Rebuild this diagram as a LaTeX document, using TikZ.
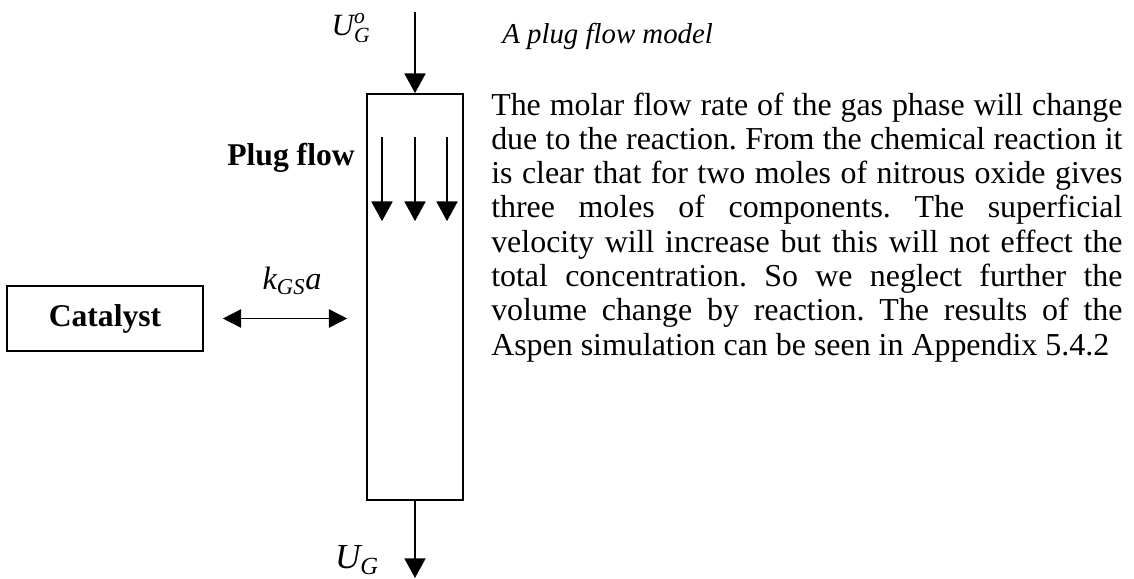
\documentclass[tikz,border=0pt]{standalone}
\usepackage{fontspec}
\usepackage{amsmath}
\setmainfont{Liberation Serif}
\usetikzlibrary{positioning, arrows.meta, calc}

% italic symbol set in the text face
\newcommand{\vsym}[1]{\text{\itshape #1}}

\begin{document}
\frenchspacing
\begin{tikzpicture}[
  x=0.025cm, y=-0.025cm,
  vessel/.style={draw, line width=1.1pt, minimum width=2.4cm, minimum height=10.15cm, inner sep=0pt},
  solidbox/.style={draw, line width=1.1pt, minimum width=4.9cm, minimum height=1.625cm, inner sep=0pt, font=\fontsize{22.5}{26}\selectfont\bfseries},
  stream/.style={-{Triangle[length=14pt, width=15pt]}, line width=1.1pt},
  exchange/.style={{Triangle[length=13pt, width=13pt]}-{Triangle[length=13pt, width=13pt]}, line width=1.1pt},
  symlabel/.style={font=\fontsize{22}{25}\selectfont, inner sep=0pt},
]

% frame of the page
\useasboundingbox (0,0) rectangle (1134,579);

%% reactor tube and catalyst
\node[vessel] (reactor) at (415,297) {};
\node[solidbox] (catalyst) at (105,318.5) {Catalyst};

%% inlet and outlet streams
\coordinate (feed) at (415,12);
\coordinate (exit) at (415,578);
\draw[stream] (feed) -- (reactor.north);
\draw[stream] (reactor.south) -- (exit);
\node[symlabel] (uin) at (351,28) {$\vsym{U}^{\vsym{o}}_{\vsym{G}}$};
\node[symlabel, font=\fontsize{25}{28}\selectfont] (uout) at (357,560) {$\vsym{U}_{\vsym{G}}$};

%% plug flow inside the tube
\foreach \dx in {-33,0,32} {
  \draw[stream] ($(reactor.north)+(\dx,44)$) -- ++(0,84);
}
\node[font=\fontsize{22.5}{26}\selectfont\bfseries, anchor=east, inner sep=0pt] (plug) at (355,158) {Plug flow};

%% mass transfer to the catalyst
\draw[exchange, shorten <=0.475cm, shorten >=0.475cm] (catalyst.east) -- (catalyst.east -| reactor.west);
\node[symlabel, font=\fontsize{23}{26}\selectfont] (kga) at (292,281) {$\vsym{k}_{\vsym{GS}}\vsym{a}$};

%% description
\node[anchor=base west, inner sep=0pt, font=\fontsize{20.5}{24}\selectfont\itshape] (title) at (502,43) {A plug flow model};
\node[anchor=base west, inner sep=0pt, text width=15.775cm, align=justify,
      font=\fontsize{22.7}{24.4}\selectfont] (text) at (491,115) {%
  The molar flow rate of the gas phase will change\linebreak
  due to the reaction. From the chemical reaction it\linebreak
  is clear that for two moles of nitrous oxide gives\linebreak
  three moles of components. The superficial\linebreak
  velocity will increase but this will not effect the\linebreak
  total concentration. So we neglect further the\linebreak
  volume change by reaction. The results of the\linebreak
  Aspen simulation can be seen in Appendix 5.4.2};

\end{tikzpicture}
\end{document}
